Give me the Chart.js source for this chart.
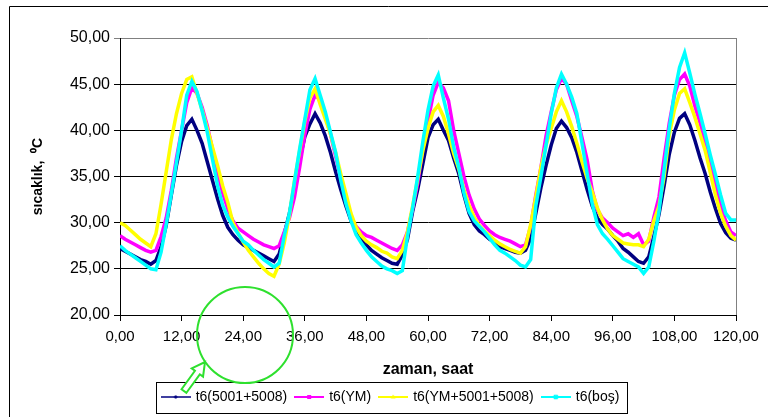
<!DOCTYPE html>
<html>
<head>
<meta charset="utf-8">
<script src="https://cdn.jsdelivr.net/npm/chart.js@4/dist/chart.umd.min.js"></script>
<style>
  html, body { margin: 0; padding: 0; background: #fff; }
  #wrap { width: 768px; height: 417px; }
</style>
</head>
<body>
<div id="wrap"><canvas id="chart" width="768" height="417"></canvas></div>
<script>
const FONT = "'Liberation Sans', Arial, sans-serif";

// zaman, saat (0..120)
const hours = Array.from({ length: 121 }, (_, i) => i);

const xTickLabels = ['0,00', '12,00', '24,00', '36,00', '48,00', '60,00', '72,00', '84,00', '96,00', '108,00', '120,00'];
const yTickLabels = ['20,00', '25,00', '30,00', '35,00', '40,00', '45,00', '50,00'];

const seriesNames = ['t6(5001+5008)', 't6(YM)', 't6(YM+5001+5008)', 't6(boş)'];

const t6_5001 = [
  27.2, 26.9, 26.6, 26.3, 26.0, 25.8, 25.5, 25.9, 27.4, 29.7, 33.0, 36.2, 38.8, 40.5, 41.2, 40.0,
  38.6, 36.6, 34.6, 32.6, 30.8, 29.5, 28.7, 28.1, 27.6, 27.3, 27.0, 26.7, 26.4, 26.1, 25.8, 26.6,
  28.8, 31.0, 33.8, 36.8, 39.3, 40.7, 41.8, 40.8, 39.4, 37.6, 35.5, 33.6, 31.8, 30.2, 29.2, 28.3,
  27.6, 27.0, 26.6, 26.2, 25.9, 25.6, 25.5, 26.5, 28.2, 31.2, 33.6, 36.4, 39.2, 40.6, 41.2, 40.0,
  38.9, 37.0, 35.3, 33.0, 31.0, 29.8, 29.1, 28.7, 28.2, 27.9, 27.4, 27.2, 27.0, 26.8, 26.7, 27.0,
  28.3, 31.0, 33.8, 36.2, 38.4, 40.2, 41.0, 40.3, 39.2, 37.6, 35.6, 33.6, 31.8, 30.5, 29.8, 29.3,
  28.6, 28.0, 27.2, 26.8, 26.3, 25.8, 25.6, 26.3, 28.5, 30.9, 34.0, 37.4, 39.8, 41.3, 41.8, 40.6,
  38.9, 37.0, 35.3, 33.3, 31.5, 29.9, 28.9, 28.3, 28.1
];

const t6_YM = [
  28.6, 28.2, 27.9, 27.6, 27.3, 27.0, 26.8, 27.0, 28.5, 30.5, 33.5, 37.0, 40.0, 43.0, 44.6, 44.0,
  42.5, 40.5, 38.0, 35.5, 33.2, 31.5, 30.2, 29.4, 29.0, 28.6, 28.2, 27.9, 27.6, 27.4, 27.2, 27.5,
  29.0, 30.5, 32.8, 36.0, 39.5, 42.3, 43.8, 43.3, 41.6, 39.6, 37.2, 34.8, 32.6, 30.6, 29.6, 29.0,
  28.6, 28.4, 28.1, 27.8, 27.5, 27.2, 27.0, 27.6, 29.0, 31.5, 34.3, 38.0, 41.0, 43.8, 45.2, 44.6,
  43.2, 40.0, 37.5, 35.0, 33.0, 31.5, 30.4, 29.7, 29.1, 28.7, 28.4, 28.2, 28.0, 27.7, 27.4, 27.6,
  29.6, 33.0, 36.0, 39.4, 42.0, 44.4, 45.6, 45.0, 43.2, 41.5, 39.2, 36.8, 33.5, 31.4, 30.5, 30.0,
  29.4, 29.0, 28.6, 28.8, 28.4, 28.8, 27.6, 28.0, 30.6, 32.8, 37.0, 40.8, 43.8, 45.5, 46.1, 44.8,
  42.6, 40.8, 38.8, 36.3, 34.0, 31.8, 30.2, 29.0, 28.6
];

const t6_YM5001 = [
  30.0, 29.7, 29.2, 28.7, 28.2, 27.8, 27.4, 28.8, 32.0, 35.5, 39.0, 41.8, 44.0, 45.5, 45.8, 44.0,
  42.2, 40.2, 38.2, 36.2, 34.0, 32.2, 30.0, 28.9, 27.9, 27.0, 26.3, 25.6, 25.0, 24.5, 24.2, 25.5,
  27.8, 30.8, 34.6, 37.8, 41.0, 43.5, 44.5, 42.8, 41.2, 39.6, 37.6, 35.3, 33.2, 31.0, 29.5, 28.6,
  28.0, 27.6, 27.3, 26.9, 26.7, 26.3, 26.1, 27.0, 29.0, 31.8, 34.8, 37.8, 40.2, 42.0, 42.7, 41.5,
  39.6, 37.5, 35.8, 33.6, 31.9, 30.6, 29.7, 29.1, 28.6, 28.1, 27.7, 27.4, 27.1, 26.9, 26.7, 27.4,
  29.8, 32.8, 36.0, 38.4, 40.2, 42.0, 43.2, 42.0, 40.4, 38.6, 36.6, 34.8, 33.3, 31.6, 30.3, 29.3,
  28.6, 28.2, 27.8, 27.7, 27.6, 27.6, 27.4, 28.2, 30.2, 31.8, 35.0, 39.5, 42.2, 44.0, 44.5, 43.0,
  41.4, 39.6, 37.8, 35.4, 33.0, 31.0, 29.6, 28.6, 28.1
];

const t6_bos = [
  27.5, 27.0, 26.6, 26.2, 25.8, 25.4, 25.0, 24.9, 26.8, 29.8, 33.1, 36.5, 40.0, 43.8, 45.3, 44.2,
  42.1, 39.8, 36.9, 34.0, 31.9, 30.6, 29.6, 28.8, 28.0, 27.6, 27.0, 26.5, 26.0, 25.6, 25.2, 25.6,
  28.6, 31.0, 34.5, 38.0, 41.2, 44.4, 45.6, 43.8, 42.0, 39.8, 37.6, 34.6, 32.1, 30.2, 28.7, 27.8,
  27.0, 26.3, 25.8, 25.3, 25.0, 24.8, 24.5, 24.8, 28.5, 31.6, 35.0, 38.8, 42.2, 44.8, 46.0, 43.5,
  41.2, 38.2, 36.0, 33.2, 31.2, 30.2, 29.6, 29.0, 28.3, 27.6, 27.0, 26.7, 26.3, 25.9, 25.4, 25.2,
  26.0, 31.8, 35.0, 38.4, 41.8, 44.6, 46.1, 45.0, 43.6, 41.8, 38.6, 35.3, 32.0, 29.8, 28.8, 28.2,
  27.5, 26.8, 26.1, 25.8, 25.5, 25.2, 24.5, 25.2, 28.0, 31.2, 35.8, 40.2, 44.0, 46.8, 48.4, 46.2,
  43.9, 41.8, 39.6, 37.3, 35.2, 33.0, 31.0, 30.3, 30.3
];

const colors = ['#000080', '#ff00ff', '#ffff00', '#00ffff'];

// legend sample: short line with the Excel-style marker
function makeSwatch(color, marker, lw) {
  const c = document.createElement('canvas');
  c.width = 30; c.height = 10;
  const g = c.getContext('2d');
  g.strokeStyle = color;
  g.fillStyle = color;
  g.lineWidth = lw;
  g.beginPath(); g.moveTo(0, 5); g.lineTo(30, 5); g.stroke();
  g.beginPath();
  if (marker === 'diamond') {
    g.moveTo(15, 3); g.lineTo(17, 5); g.lineTo(15, 7); g.lineTo(13, 5); g.closePath(); g.fill();
  } else if (marker === 'square') {
    g.fillRect(13, 3, 4, 4);
  } else if (marker === 'triangle') {
    g.moveTo(15, 2.5); g.lineTo(17.5, 6.5); g.lineTo(12.5, 6.5); g.closePath(); g.fill();
  } else {
    g.lineWidth = 1.2;
    g.moveTo(13, 3); g.lineTo(17, 7); g.moveTo(17, 3); g.lineTo(13, 7);
    g.moveTo(15, 2.5); g.lineTo(15, 7.5);
    g.stroke();
  }
  return c;
}

const swatches = [
  makeSwatch(colors[0], 'diamond', 1.5),
  makeSwatch(colors[1], 'square', 2),
  makeSwatch(colors[2], 'triangle', 2),
  makeSwatch(colors[3], 'star', 2)
];

const framePlugin = {
  id: 'frame',
  afterLayout(chart) {
    // Excel centres the legend on its own frame, a bit right of the canvas centre
    const lg = chart.legend;
    const shift = 391 - (lg.left + lg.right) / 2;
    lg.left += shift;
    lg.right += shift;
  },
  afterDraw(chart) {
    const ctx = chart.ctx;
    const area = chart.chartArea;
    ctx.save();
    // outer chart frame
    ctx.strokeStyle = '#000';
    ctx.lineWidth = 1;
    ctx.beginPath();
    ctx.moveTo(9.5, chart.height);
    ctx.lineTo(9.5, 6.5);
    ctx.lineTo(chart.width, 6.5);
    ctx.stroke();
    // plot area right border
    ctx.strokeStyle = '#808080';
    ctx.beginPath();
    ctx.moveTo(Math.round(area.right) + 0.5, area.top);
    ctx.lineTo(Math.round(area.right) + 0.5, area.bottom);
    ctx.stroke();
    // legend box
    const boxes = chart.legend.legendHitBoxes;
    if (boxes && boxes.length) {
      const first = boxes[0], last = boxes[boxes.length - 1];
      const cy = first.top + first.height / 2;
      const l = Math.round(first.left - 7) + 0.5;
      const r = Math.round(last.left + last.width + 8) + 0.5;
      const t = Math.round(cy - 15.5) + 0.5;
      const b = Math.round(cy + 15.5) + 0.5;
      ctx.strokeStyle = '#000';
      ctx.strokeRect(l, t, r - l, b - t);
    }
    // green highlight circle and arrow
    ctx.strokeStyle = '#2ee02e';
    ctx.lineWidth = 2;
    ctx.beginPath();
    ctx.arc(245, 335, 48, 0, Math.PI * 2);
    ctx.stroke();
    const tail = [184, 391], tip = [205, 362];
    const dx = tip[0] - tail[0], dy = tip[1] - tail[1];
    const len = Math.hypot(dx, dy);
    const ux = dx / len, uy = dy / len, nx = -uy, ny = ux;
    const hx = tip[0] - ux * 13, hy = tip[1] - uy * 13;
    ctx.beginPath();
    ctx.moveTo(tail[0] + nx * 3, tail[1] + ny * 3);
    ctx.lineTo(hx + nx * 3, hy + ny * 3);
    ctx.lineTo(hx + nx * 7, hy + ny * 7);
    ctx.lineTo(tip[0], tip[1]);
    ctx.lineTo(hx - nx * 7, hy - ny * 7);
    ctx.lineTo(hx - nx * 3, hy - ny * 3);
    ctx.lineTo(tail[0] - nx * 3, tail[1] - ny * 3);
    ctx.closePath();
    ctx.fillStyle = '#fff';
    ctx.fill();
    ctx.stroke();
    ctx.restore();
  }
};

const allSeries = [t6_5001, t6_YM, t6_YM5001, t6_bos];

new Chart(document.getElementById('chart'), {
  type: 'line',
  data: {
    labels: hours,
    datasets: allSeries.map((values, i) => ({
      label: seriesNames[i],
      data: values,
      borderColor: colors[i],
      backgroundColor: colors[i],
      borderWidth: 3.5,
      pointRadius: 0,
      tension: 0,
      order: 3 - i
    }))
  },
  options: {
    responsive: false,
    animation: false,
    devicePixelRatio: 1,
    layout: { padding: { left: 9, right: 32, top: 38, bottom: 3 } },
    plugins: {
      tooltip: { enabled: false },
      legend: {
        position: 'bottom',
        labels: {
          usePointStyle: true,
          pointStyleWidth: 26,
          padding: 9,
          color: '#000',
          font: { family: FONT, size: 14 },
          generateLabels(chart) {
            const items = Chart.defaults.plugins.legend.labels.generateLabels(chart);
            items.forEach(it => { it.pointStyle = swatches[it.datasetIndex]; });
            return items.sort((a, b) => a.datasetIndex - b.datasetIndex);
          }
        }
      }
    },
    scales: {
      x: {
        type: 'linear',
        min: 0,
        max: 120,
        afterFit(scale) { scale.height = 66; },
        ticks: {
          stepSize: 12,
          autoSkip: false,
          maxRotation: 0,
          padding: 7,
          color: '#000',
          font: { family: FONT, size: 15 },
          callback: (v, i) => xTickLabels[i]
        },
        grid: { drawOnChartArea: false, drawTicks: true, tickLength: 6, color: '#000' },
        border: { display: true, color: '#000' },
        title: {
          display: true,
          text: 'zaman, saat',
          color: '#000',
          font: { family: FONT, size: 16, weight: 'bold' },
          padding: { top: 0, bottom: 2 }
        }
      },
      y: {
        min: 20,
        max: 50,
        afterFit(scale) { scale.width = 111; },
        ticks: {
          stepSize: 5,
          padding: 4,
          color: '#000',
          font: { family: FONT, size: 16 },
          callback: (v, i) => yTickLabels[i]
        },
        grid: {
          drawTicks: true,
          tickLength: 6,
          color: ctx => (ctx.tick && ctx.tick.value === 50 ? '#808080' : '#000')
        },
        border: { display: true, color: '#000' },
        title: {
          display: true,
          text: 'sıcaklık,  ⁰C',
          color: '#000',
          font: { family: FONT, size: 14, weight: 'bold' },
          padding: { top: 21, bottom: 0 }
        }
      }
    }
  },
  plugins: [framePlugin]
});
</script>
</body>
</html>
